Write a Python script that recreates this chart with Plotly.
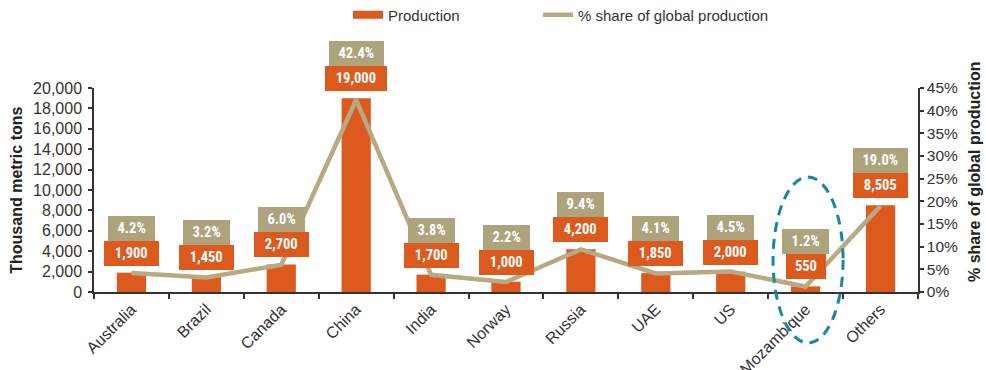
import plotly.graph_objects as go

countries = ["Australia", "Brazil", "Canada", "China", "India", "Norway",
             "Russia", "UAE", "US", "Mozambique", "Others"]
production = [1900, 1450, 2700, 19000, 1700, 1000, 4200, 1850, 2000, 550, 8505]
share_pct = [4.2, 3.2, 6.0, 42.4, 3.8, 2.2, 9.4, 4.1, 4.5, 1.2, 19.0]
left_ticks = [0, 2000, 4000, 6000, 8000, 10000, 12000, 14000, 16000, 18000, 20000]
right_ticks = [0, 5, 10, 15, 20, 25, 30, 35, 40, 45]
right_tick_labels = [f"{t}%" for t in right_ticks]

ORANGE = "#DD5A1E"
TAN_LINE = "#B7AA82"
TAN_BOX = "#ADA37D"
TEAL = "#1B86A2"
AXIS = "#333333"
TXT = "#333333"
BASE_FONT = "Liberation Sans, Arial, sans-serif"
NARROW = "Liberation Sans Narrow, Arial Narrow, Roboto Condensed, Roboto, sans-serif"

fig = go.Figure()

fig.add_trace(go.Bar(
    x=countries, y=production, marker_color=ORANGE, marker_line_width=0,
    showlegend=False, name="Production", yaxis="y"))

# legend proxy for a wide rectangular swatch
fig.add_trace(go.Scatter(
    x=[None], y=[None], mode="lines", line=dict(color=ORANGE, width=8),
    name="Production", yaxis="y", legend="legend"))

fig.add_trace(go.Scatter(
    x=countries, y=share_pct, mode="lines", line=dict(color=TAN_LINE, width=4.5),
    name="% share of global production", yaxis="y2", legend="legend2"))

annotations = []
for c, v, p in zip(countries, production, share_pct):
    t1 = f"{v:,}"
    t2 = f"{p:.1f}%"
    annotations.append(dict(
        x=c, y=v, xref="x", yref="y", text=f"<b>{t1}</b>", showarrow=False,
        yanchor="bottom", yshift=7, bgcolor=ORANGE, borderwidth=0, borderpad=0,
        width=18 + 7.3 * len(t1), height=25,
        font=dict(family=NARROW, size=14.5, color="white")))
    annotations.append(dict(
        x=c, y=v, xref="x", yref="y", text=f"<b>{t2}</b>", showarrow=False,
        yanchor="bottom", yshift=32, bgcolor=TAN_BOX, borderwidth=0, borderpad=0,
        width=18 + 7.3 * len(t2), height=25,
        font=dict(family=NARROW, size=14.5, color="white")))

annotations.append(dict(
    x=-0.095, y=0.5, xref="paper", yref="paper", text="<b>Thousand metric tons</b>",
    textangle=-90, showarrow=False, xanchor="center", yanchor="middle",
    font=dict(family=BASE_FONT, size=16, color="#222222")))
annotations.append(dict(
    x=1.0 + (974 - 918) / 824, y=(292 - 172) / 204, xref="paper", yref="paper",
    text="<b>% share of global production</b>",
    textangle=-90, showarrow=False, xanchor="center", yanchor="middle",
    font=dict(family=BASE_FONT, size=16, color="#222222")))

leg_common = dict(orientation="h", xanchor="left", yref="container", yanchor="middle",
                  y=1 - 15 / 370, font=dict(size=15, color=TXT),
                  bgcolor="rgba(0,0,0,0)")

fig.update_layout(
    width=986, height=370,
    margin=dict(l=94, r=68, t=88, b=78),
    paper_bgcolor="white", plot_bgcolor="white",
    bargap=0.61,
    font=dict(family=BASE_FONT, size=15, color=TXT),
    xaxis=dict(
        type="category", showgrid=False, showline=True, linecolor=AXIS, linewidth=1.5,
        ticks="outside", ticklen=5, tickcolor=AXIS, tickwidth=1.5, tickson="boundaries",
        tickangle=-45, tickfont=dict(size=16, color=TXT), automargin=False),
    yaxis=dict(
        range=[0, 20000], tickvals=left_ticks, tickformat=",d", showgrid=False,
        zeroline=False, showline=True, linecolor=AXIS, linewidth=1.5,
        ticks="outside", ticklen=4, tickcolor=AXIS, tickwidth=1.5,
        ticklabelstandoff=3,
        tickfont=dict(size=16, color=TXT), automargin=False),
    yaxis2=dict(
        range=[0, 45], tickvals=right_ticks, ticktext=right_tick_labels,
        overlaying="y", side="right",
        showgrid=False, zeroline=False, showline=True, linecolor=AXIS, linewidth=1.5,
        ticks="outside", ticklen=4, tickcolor=AXIS, tickwidth=1.5,
        tickfont=dict(size=15.5, color=TXT), automargin=False),
    legend=dict(x=(348 - 94) / 824, **leg_common),
    legend2=dict(x=(538 - 94) / 824, **leg_common),
    annotations=annotations,
    shapes=[dict(
        type="circle", xref="x", yref="paper",
        x0=8.565, x1=9.5, y0=(292 - 343) / 204, y1=(292 - 177) / 204,
        line=dict(color=TEAL, width=3, dash="10px,7px"))],
)

fig.write_html("out.html")
